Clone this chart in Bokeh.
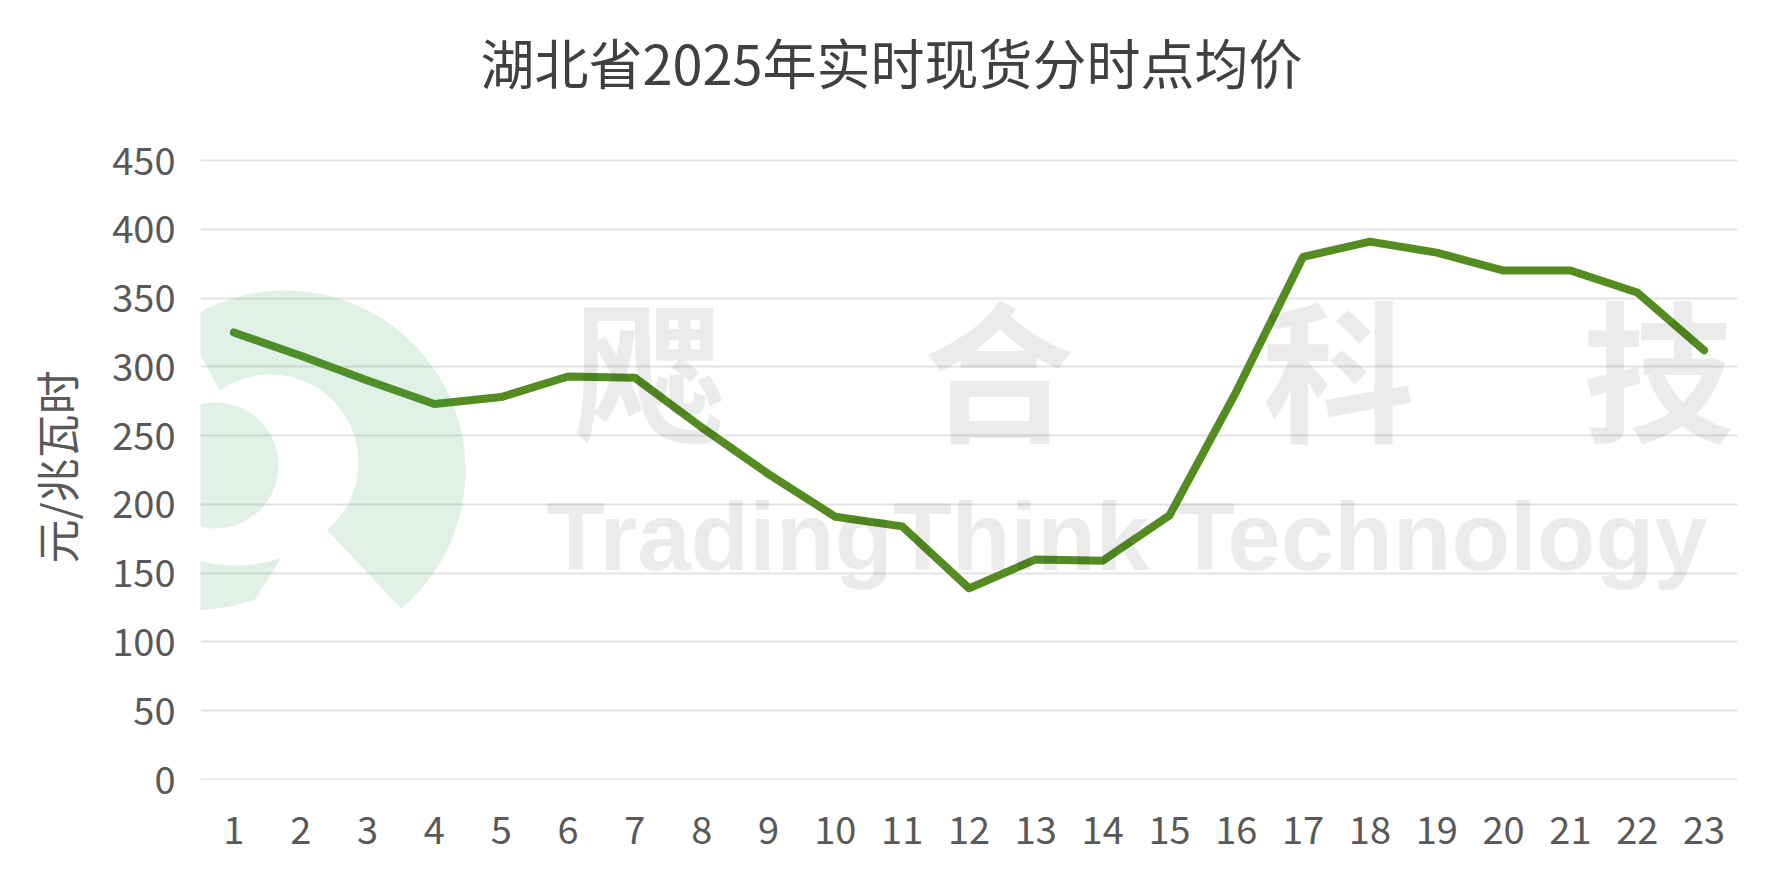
import numpy as np
from bokeh.plotting import figure
from bokeh.models import Range1d, FixedTicker, Label, PolyAnnotation, Span
from bokeh.core.properties import value
from bokeh.embed import file_html
from bokeh.resources import INLINE

# ---- data ----
hours = list(range(1, 24))
price = [325, 308, 290, 273, 278, 293, 292, 256, 222, 191, 184, 139,
         160, 159, 192, 282, 380, 391, 383, 370, 370, 354, 312]
y_ticks = [0, 50, 100, 150, 200, 250, 300, 350, 400, 450]
title_text = "湖北省2025年实时现货分时点均价"
y_label = "元/兆瓦时"
watermark_cn = ["飔", "合", "科", "技"]
watermark_en = "TradingThink Technology"

CJK = "Noto Sans CJK SC"

W, H = 1777, 878
FL, FR, FT, FB = 200, 1737, 0, 779     # frame edges in canvas px (frame reaches the top so the title fits inside)
PX_PER_UNIT = 619 / 450                # 0..450 spans canvas y 160..779
y_end = (FB - FT) / PX_PER_UNIT

p = figure(width=W, height=H, output_backend="svg", toolbar_location=None,
           title=None,
           x_range=Range1d(0.5, 23.5), y_range=Range1d(0, y_end),
           min_border_left=FL, min_border_right=W - FR,
           min_border_top=FT, min_border_bottom=H - FB)
p.outline_line_color = None
p.background_fill_color = "white"
p.border_fill_color = "white"

# axes
p.xaxis.ticker = FixedTicker(ticks=hours)
p.yaxis.ticker = FixedTicker(ticks=y_ticks)
p.yaxis.bounds = (0, 450)
for ax in (p.xaxis, p.yaxis):
    ax.axis_line_color = None
    ax.major_tick_line_color = None
    ax.minor_tick_line_color = None
    ax.major_label_text_font = CJK
    ax.major_label_text_font_size = "38px"
    ax.major_label_text_color = "#595959"
p.xaxis.major_label_standoff = 30
p.yaxis.major_label_standoff = 19
# trailing ideographic spaces keep the label centred on the 0-450 span
p.yaxis.axis_label = y_label + "\u3000\u3000\u3000\u2002"
p.yaxis.axis_label_text_font = CJK
p.yaxis.axis_label_text_font_size = "44px"
p.yaxis.axis_label_text_font_style = "normal"
p.yaxis.axis_label_text_color = "#595959"
p.yaxis.axis_label_standoff = 21

p.xgrid.visible = False
p.ygrid.grid_line_color = "#e3e3e3"
p.ygrid.grid_line_width = 2
p.add_layout(Span(location=0, dimension="width", line_color="#d6d6d6",
                  line_width=2, level="underlay"))

p.line(hours, price, line_color="#548C22", line_width=8,
       line_join="round", line_cap="round")

# ---- placement helper (canvas px -> data) ----
def to_data(px, py):
    return (0.5 + (np.asarray(px) - FL) * 23 / (FR - FL),
            (FB - np.asarray(py)) / PX_PER_UNIT)

# title
tx, ty = to_data(891, 61)
p.add_layout(Label(x=float(tx), y=float(ty), text=title_text, text_font=CJK,
                   text_font_size="54px", text_color="#404040",
                   text_align="center", text_baseline="middle"))

# ---- watermark (decoration) ----
def crescent(oc, ro, ic, ri, a0, a1, n=60):
    t = np.radians(np.linspace(a0, a1, n))
    ox = oc[0] + ro * np.cos(t); oy = oc[1] - ro * np.sin(t)
    ix = ic[0] + ri * np.cos(t[::-1]); iy = ic[1] - ri * np.sin(t[::-1])
    xs, ys = to_data(np.concatenate([ox, ix]), np.concatenate([oy, iy]))
    return list(xs), list(ys)

def disc(c, r, n=60):
    t = np.radians(np.linspace(0, 360, n))
    xs, ys = to_data(c[0] + r * np.cos(t), c[1] - r * np.sin(t))
    return list(xs), list(ys)

logo_shapes = [
    crescent((285, 470), 180, (270, 462), 88, -50, 125),
    crescent((190, 420), 190, (235, 430), 135, 130, 290),
    disc((215, 465), 63),
]
for xs, ys in logo_shapes:
    p.add_layout(PolyAnnotation(xs=xs, ys=ys, fill_color="#2ca05a",
                                fill_alpha=0.15, line_color=None))

for ch, px in zip(watermark_cn, [649, 998, 1338, 1658]):
    lx, ly = to_data(px, 364)
    p.add_layout(Label(x=float(lx), y=float(ly), text=ch, text_font=CJK,
                       text_font_size="152px", text_font_style="bold",
                       text_color="black", text_alpha=0.08,
                       text_align="center", text_baseline="middle"))
lx, ly = to_data(546, 536)
p.add_layout(Label(x=float(lx), y=float(ly), text=watermark_en,
                   text_font="Liberation Sans",
                   text_font_size="96px", text_font_style="bold",
                   text_color="black", text_alpha=0.08,
                   text_align="left", text_baseline="alphabetic"))

open("out.html", "w").write(file_html(p, INLINE))
